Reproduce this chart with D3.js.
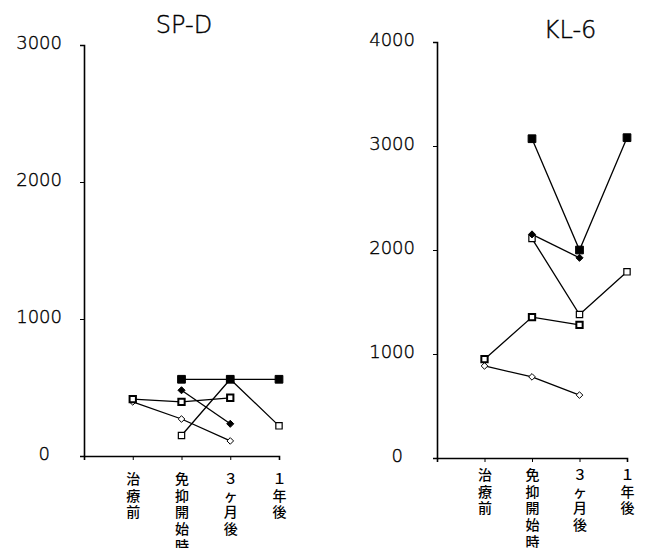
<!DOCTYPE html>
<html>
<head>
  <meta charset="utf-8">
  <script src="https://d3js.org/d3.v7.min.js"></script>
  <style>
    body { margin: 0; background: #fff; }
    .tick line, .domain { stroke: #000; }
    .ylab { font-family: "DejaVu Sans", sans-serif; font-weight: 200; font-size: 18px; stroke: #000; stroke-width: 0.35px; }
    .xlab { font-family: "Noto Sans CJK JP", sans-serif; font-weight: 500; font-size: 14px; }
    .title { font-family: "DejaVu Sans", sans-serif; font-weight: 200; font-size: 24px; stroke: #000; stroke-width: 0.4px; }
  </style>
</head>
<body>
<script>
// categories (time points), first slot is the origin
var categories = ['治療前', '免抑開始時', '３ヶ月後', '１年後'];

// SP-D values per patient (null = not measured)
var spdFilledSquare = [null, 560, 560, 560];
var spdFilledDiamond = [null, 480, 235, null];
var spdOpenSquare = [null, 150, 560, 220];
var spdBoldSquare = [415, 395, 425, null];
var spdOpenDiamond = [395, 270, 110, null];
var spdTicks = [0, 1000, 2000, 3000];

// KL-6 values per patient
var klFilledSquare = [null, 3070, 2000, 3080];
var klFilledDiamond = [null, 2150, 1925, null];
var klOpenSquare = [null, 2110, 1380, 1790];
var klBoldSquare = [950, 1355, 1280, null];
var klOpenDiamond = [885, 780, 605, null];
var klTicks = [0, 1000, 2000, 3000, 4000];

var svg = d3.select('body').append('svg')
  .attr('width', 647).attr('height', 548);

function drawPanel(opt) {
  var g = svg.append('g').attr('transform', 'translate(' + opt.x0 + ',' + opt.y0 + ')');
  var x = d3.scalePoint().domain([''].concat(categories)).range([0, opt.w]);
  var y = d3.scaleLinear().domain([0, opt.max]).range([0, -opt.h]);

  // y axis
  var ya = g.append('g').call(d3.axisLeft(y).tickValues(opt.ticks).tickSize(4).tickFormat(d3.format('d')));
  ya.select('.domain').attr('stroke-width', 1.6);
  ya.selectAll('text').attr('class', 'ylab').attr('fill', '#000')
    .attr('x', function(d) { return d === 0 ? -34 : -22; })
    .attr('dy', '0.2em');

  // x axis, one character per line
  var xa = g.append('g').call(d3.axisBottom(x).tickSize(4).tickFormat(''));
  xa.select('.domain').attr('stroke-width', 1.6);
  xa.selectAll('.tick').each(function(d) {
    if (!d) return;
    var t = d3.select(this).append('text').attr('class', 'xlab')
      .attr('text-anchor', 'middle').attr('fill', '#000');
    d.split('').forEach(function(ch, i) {
      t.append('tspan').attr('x', 0).attr('y', opt.labTop + i * 16.7).text(ch);
    });
  });

  // title
  g.append('text').attr('class', 'title').attr('text-anchor', 'middle')
    .attr('x', opt.tx).attr('y', opt.ty).text(opt.title);

  var line = d3.line()
    .defined(function(d) { return d != null; })
    .x(function(d, i) { return x(categories[i]); })
    .y(function(d) { return y(d); });

  opt.series.forEach(function(s) {
    g.append('path').datum(s.values)
      .attr('d', line).attr('fill', 'none')
      .attr('stroke', '#000').attr('stroke-width', 1.3);
  });

  opt.series.forEach(function(s) {
    var pts = s.values.map(function(v, i) { return { v: v, c: categories[i] }; })
      .filter(function(p) { return p.v != null; });
    var sym = d3.symbol().type(s.shape === 'square' ? d3.symbolSquare : d3.symbolDiamond2).size(s.size);
    g.selectAll(null).data(pts).enter().append('path')
      .attr('transform', function(p) { return 'translate(' + x(p.c) + ',' + y(p.v) + ')'; })
      .attr('d', sym)
      .attr('fill', s.fill ? '#000' : '#fff')
      .attr('stroke', '#000')
      .attr('stroke-width', s.sw);
  });
}

drawPanel({
  x0: 84, y0: 456, w: 195, h: 411, max: 3000, ticks: spdTicks,
  title: 'SP-D', tx: 100, ty: -423, labTop: 28,
  series: [
    { values: spdOpenDiamond, shape: 'diamond', fill: false, size: 28, sw: 1 },
    { values: spdBoldSquare, shape: 'square', fill: false, size: 40, sw: 2 },
    { values: spdOpenSquare, shape: 'square', fill: false, size: 40, sw: 1.2 },
    { values: spdFilledDiamond, shape: 'diamond', fill: true, size: 32, sw: 1 },
    { values: spdFilledSquare, shape: 'square', fill: true, size: 60, sw: 1 }
  ]
});

drawPanel({
  x0: 437, y0: 458, w: 190, h: 416, max: 4000, ticks: klTicks,
  title: 'KL-6', tx: 133, ty: -420, labTop: 22,
  series: [
    { values: klOpenDiamond, shape: 'diamond', fill: false, size: 28, sw: 1 },
    { values: klBoldSquare, shape: 'square', fill: false, size: 40, sw: 2 },
    { values: klOpenSquare, shape: 'square', fill: false, size: 40, sw: 1.2 },
    { values: klFilledDiamond, shape: 'diamond', fill: true, size: 32, sw: 1 },
    { values: klFilledSquare, shape: 'square', fill: true, size: 60, sw: 1 }
  ]
});
</script>
</body>
</html>
